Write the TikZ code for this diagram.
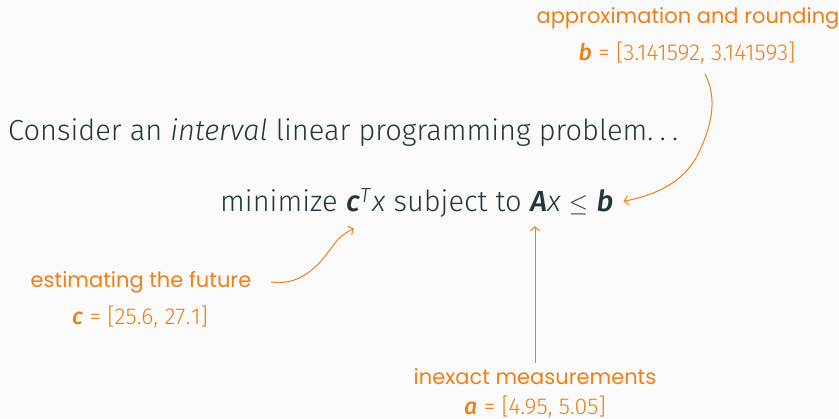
\documentclass[tikz,border=0pt]{standalone}
\usepackage{fontspec}
\setmainfont{Fira Sans Light}[
  BoldFont=Fira Sans Medium,
  ItalicFont=Fira Sans Light Italic,
  BoldItalicFont=Fira Sans Medium Italic]
\newfontfamily\handfont{Poppins}
\usepackage{xcolor}
\usetikzlibrary{arrows.meta,positioning}
\definecolor{slidebg}{HTML}{FAFAFA}
\definecolor{slidetext}{HTML}{23373B}
\definecolor{noteorange}{HTML}{EB811B}
\newcommand{\vb}[1]{\textbf{\textit{#1}}}
\newcommand{\gap}{\ \kern0pt}
\tikzset{
  slide/.style={text=slidetext,inner sep=0pt,
    font=\fontsize{29}{35}\selectfont},
  eqpart/.style={slide},
  note/.style={text=noteorange,inner sep=0pt,
    font=\handfont\fontsize{21}{25}\selectfont},
  noteval/.style={text=noteorange,inner sep=0pt,
    font=\fontsize{23}{27}\selectfont},
  noteflow/.style={-{Straight Barb[length=4pt,width=9pt]},line width=1pt,
    draw=noteorange,line cap=round,line join=round}
}

\begin{document}
\begin{tikzpicture}[x=1pt,y=-1pt]
  \fill[slidebg] (0,0) rectangle (839,419);
  \useasboundingbox (0,0) rectangle (839,419);

  % headline
  \node[slide,anchor=base west] (consider) at (8,141)
    {Consider an \textit{interval} linear programming
     problem.\hspace{0.22em}.\hspace{0.22em}.};

  % the program, piece by piece
  \node[eqpart,anchor=base west] (eqmin) at (220,212) {minimize\gap};
  \node[eqpart,base right=0pt of eqmin] (eqc) {\vb{c}\textsuperscript{\textit{T}}};
  \node[eqpart,base right=0pt of eqc] (eqst) {\textit{x}\ subject to\gap};
  \node[eqpart,base right=0pt of eqst] (eqA) {\vb{A}};
  \node[eqpart,base right=0pt of eqA] (eqle) {\textit{x}\ $\leq$\gap};
  \node[eqpart,base right=0pt of eqle] (eqb) {\vb{b}};

  % annotations
  \node[note] (roundnote) at (688,18) {approximation and rounding};
  \node[noteval] (bval) at (687,53) {\vb{b}~=~[3.141592,~3.141593]};
  \node[note] (futnote) at (141,282) {estimating the future};
  \node[noteval] (cval) at (140,317) {\vb{c}~=~[25.6,~27\kern0.5pt.\kern0.5pt1]};
  \node[note] (measnote) at (535,377) {inexact measurements};
  \node[noteval] (aval) at (535,407) {\vb{a}~=~[4.95,~5.05]};

  \draw[noteflow] ([xshift=18pt,yshift=-10pt]bval.south)
    .. controls (716,95) and (714,120) .. (700,150)
    .. controls (688,178) and (662,194) .. ([xshift=10pt]eqb.east);
  \draw[noteflow] ([xshift=20pt]futnote.east)
    .. controls (298,286) and (316,268) .. (326,255)
    .. controls (334,245) and (338,236) .. ([xshift=-5pt,yshift=-16pt]eqc.south);
  \draw[noteflow] ([yshift=6pt]measnote.north)
    -- ([yshift=-14pt]measnote.north |- eqA.south);
\end{tikzpicture}
\end{document}
